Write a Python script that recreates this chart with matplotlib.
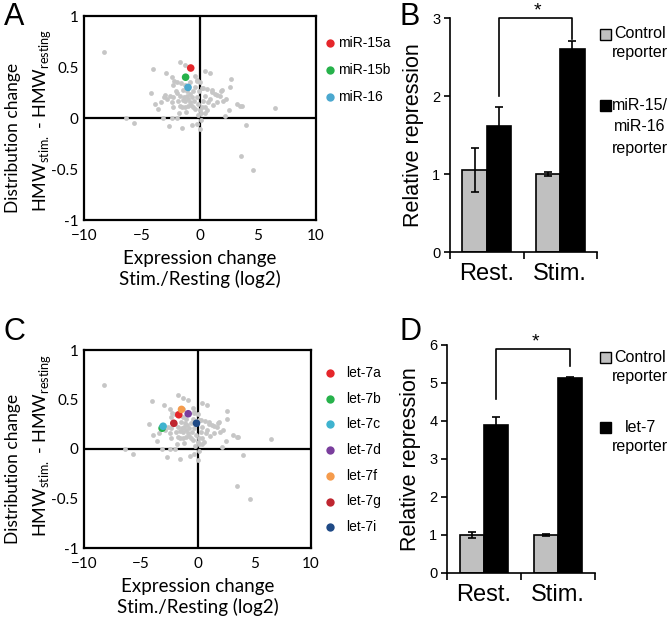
import matplotlib
matplotlib.use("Agg")
import matplotlib.pyplot as plt
from matplotlib.patches import Rectangle

# ---- data ----
gray_x = [-8.28, -4.02, -2.96, -1.72, -1.29, 0.43, 0.86, -2.39, -2.27, -0.43, -0.29, 2.64,
          -4.25, -2.36, 0.14, 0.63, 1.01, 1.47, 1.81, 2.59, 2.21, 2.01, 3.16, 3.45, 3.59, 2.5,
          -3.88, -3.59, -3.39, -6.38, -5.66, -3.16, -2.4, -2.0, -2.67, -1.58, -0.66, -0.29, 0.0,
          0.09, 0.09, 0.43, 2.16, 3.97, 3.51, 4.6, 6.49,
          -2.87, -2.44, -2.3, -1.87, -1.72, -1.58, -1.44, -1.38, -1.26, -1.15, -1.0, -0.86, -0.72,
          -0.57, -0.43, -0.29, -0.14, 0.0, 0.14, 0.29, 0.43, 0.57, 0.72, 0.86, 1.03, 1.29, 1.44,
          1.72, 1.87, -1.72, -1.29, -1.0, -2.3, -0.29, 0.0, -1.29, -0.43, 0.29, -2.0, -1.95, -1.1,
          -0.6, -0.9, -2.6, -1.5, -0.5, -0.2, -1.8, -1.2, -0.75, 0.4, 1.1]
gray_y = [0.65, 0.48, 0.445, 0.55, 0.52, 0.46, 0.445, 0.40, 0.36, 0.41, 0.36, 0.38,
          0.25, 0.32, 0.29, 0.28, 0.255, 0.23, 0.26, 0.30, 0.19, 0.17, 0.14, 0.12, 0.12, 0.08,
          0.14, 0.085, 0.16, 0.0, -0.05, 0.0, 0.0, 0.0, -0.08, -0.10, -0.07, -0.055, -0.11,
          -0.02, 0.05, 0.05, 0.02, -0.065, -0.375, -0.51, 0.10,
          0.19, 0.16, 0.21, 0.17, 0.22, 0.11, 0.27, 0.21, 0.17, 0.22, 0.19, 0.16, 0.21,
          0.11, 0.09, 0.21, 0.14, 0.075, 0.11, 0.17, 0.22, 0.075, 0.16, 0.19, 0.27, 0.24, 0.16,
          0.22, 0.27, 0.12, 0.11, 0.12, 0.11, 0.37, 0.35, 0.32, 0.30, 0.29, 0.35, 0.25, 0.26,
          0.26, 0.24, 0.22, 0.18, 0.17, 0.03, 0.05, 0.06, 0.13, 0.11, 0.13]

mir15_names = ["miR-15a", "miR-15b", "miR-16"]
mir15_x = [-0.8, -1.24, -1.03]
mir15_y = [0.49, 0.40, 0.30]
mir15_colors = ["#e5262b", "#27b24b", "#4ba8cf"]

let7_names = ["let-7a", "let-7b", "let-7c", "let-7d", "let-7f", "let-7g", "let-7i"]
let7_x = [-1.65, -3.12, -3.03, -0.82, -1.41, -2.09, -0.09]
let7_y = [0.346, 0.21, 0.23, 0.356, 0.40, 0.26, 0.26]
let7_colors = ["#e5262b", "#27b24b", "#3fb3cf", "#7a3e9d", "#f59b4c", "#bf2630", "#1f4a86"]

conditions = ["Rest.", "Stim."]
b_control = [1.05, 1.0]
b_control_err = [0.28, 0.02]
b_mir = [1.62, 2.6]
b_mir_err = [0.24, 0.1]
d_control = [1.0, 1.0]
d_control_err = [0.08, 0.03]
d_let7 = [3.9, 5.13]
d_let7_err = [0.2, 0.02]

W, H = 672, 624
fig = plt.figure(figsize=(6.72, 6.24), dpi=100)
SC_FONT = "Lato"
BAR_FONT = "Liberation Sans"


def fx(px):
    return px / W


def fy(py):
    return 1 - py / H


def scatter_panel(rect, hx, hy, hcolors, other_x, other_y, ylab_pos):
    ax = fig.add_axes(rect)
    ax.scatter(gray_x + other_x, gray_y + other_y, s=12, color="#c6c6c6", lw=0, zorder=2)
    ax.scatter(hx, hy, s=30, c=hcolors, lw=0, zorder=3)
    ax.axhline(0, color="black", lw=1.6, zorder=1)
    ax.axvline(0, color="black", lw=1.6, zorder=1)
    ax.set_xlim(-10, 10)
    ax.set_ylim(-1, 1)
    ax.set_xticks([-10, -5, 0, 5, 10])
    ax.set_yticks([-1, -0.5, 0, 0.5, 1])
    ax.set_yticklabels(["-1", "-0.5", "0", "0.5", "1"])
    ax.tick_params(axis="y", length=0, pad=4, labelsize=11)
    ax.tick_params(axis="x", length=0, pad=6.5, labelsize=11)
    for lab in ax.get_xticklabels() + ax.get_yticklabels():
        lab.set_fontfamily(SC_FONT)
    for sp in ax.spines.values():
        sp.set_linewidth(1.6)
    ax.set_xlabel("Expression change\nStim./Resting (log2)", fontsize=13.5,
                  family=SC_FONT, labelpad=5, linespacing=1.2)
    # two-line y label, placed line by line
    (x1, y1), (x2, y2) = ylab_pos
    fig.text(fx(x1), fy(y1), "Distribution change", rotation=90, fontsize=12.5,
             family=SC_FONT, ha="center", va="center")
    fig.text(fx(x2), fy(y2), "HMW$_{\\mathregular{stim.}}$ - HMW$_{\\mathregular{resting}}$",
             rotation=90, fontsize=13, family=SC_FONT, ha="center", va="center")
    return ax


def scatter_legend(names, colors, y0, step, tx):
    for i, (n, c) in enumerate(zip(names, colors)):
        yy = fy(y0 + i * step)
        fig.add_artist(plt.Line2D([fx(330)], [yy], marker="o", ms=6, color=c, mew=0,
                                  transform=fig.transFigure))
        fig.text(fx(tx), yy, n, fontsize=10, family=BAR_FONT, va="center", ha="left")


def bar_panel(rect, ctrl, ctrl_err, exp, exp_err, ymax, bracket, star_y):
    ax = fig.add_axes(rect)
    pos = list(range(len(conditions)))
    bw = 0.33
    ax.bar([p - bw / 2 for p in pos], ctrl, bw, yerr=ctrl_err, color="#c0c0c0",
           edgecolor="black", lw=1.2, capsize=3,
           error_kw=dict(elinewidth=1.2, capthick=1.2))
    ax.bar([p + bw / 2 for p in pos], exp, bw, yerr=exp_err, color="black",
           edgecolor="black", lw=1.2, capsize=3,
           error_kw=dict(elinewidth=1.2, capthick=1.2, ecolor="black"))
    ax.set_xlim(-0.5, 1.5)
    ax.set_ylim(0, ymax)
    ax.set_yticks(range(0, ymax + 1))
    ax.set_xticks([-0.5, 0.5, 1.5])
    ax.set_xticklabels([])
    ax.set_xticks(pos, minor=True)
    ax.set_xticklabels(conditions, minor=True, fontsize=17, family=BAR_FONT)
    ax.tick_params(axis="x", which="minor", length=0, pad=8)
    ax.tick_params(axis="x", which="major", length=5, width=1.2, direction="out")
    ax.tick_params(axis="y", length=4, width=1.2, labelsize=10.5, pad=3)
    for lab in ax.get_yticklabels():
        lab.set_fontfamily(BAR_FONT)
    for s in ["top", "right"]:
        ax.spines[s].set_visible(False)
    for s in ["left", "bottom"]:
        ax.spines[s].set_linewidth(1.2)
    ax.set_ylabel("Relative repression", fontsize=15.5, family=BAR_FONT, labelpad=6)
    xl, xr = bw / 2, 1 + bw / 2
    yl, ytop, yr = bracket
    ax.plot([xl, xl, xr, xr], [yl, ytop, ytop, yr], color="black", lw=1.2, clip_on=False)
    ax.text((xl + xr) / 2 + 0.03, star_y, "*", fontsize=14, ha="center", va="top",
            family=BAR_FONT)
    return ax


def bar_legend(items):
    for color, ypx, lines in items:
        fig.add_artist(Rectangle((fx(600), fy(ypx + 5.5)), 11 / W, 11 / H,
                                 facecolor=color, edgecolor="black", lw=1,
                                 transform=fig.transFigure))
        for t, ty in lines:
            fig.text(fx(640), fy(ty), t, fontsize=11.5, family=BAR_FONT,
                     ha="center", va="center")


# Panel A
scatter_panel([fx(84), fy(220), 232 / W, 204 / H], mir15_x, mir15_y, mir15_colors,
              let7_x, let7_y, ((13, 138), (42, 120)))
scatter_legend(mir15_names, mir15_colors, 43, 27, 338)

# Panel C
scatter_panel([fx(84), fy(548), 227 / W, 198 / H], let7_x, let7_y, let7_colors,
              mir15_x, mir15_y, ((13, 469), (42, 445)))
scatter_legend(let7_names, let7_colors, 373, 25.7, 346)

# Panel B
bar_panel([fx(450), fy(252), 147 / W, 234 / H], b_control, b_control_err, b_mir, b_mir_err,
          3, (2.0, 3.0, 2.73), 3.2)
bar_legend([("#c0c0c0", 34.5, [("Control", 34), ("reporter", 53)]),
            ("black", 105.5, [("miR-15/", 105), ("miR-16", 127), ("reporter", 148)])])

# Panel D
bar_panel([fx(447), fy(573), 148 / W, 228 / H], d_control, d_control_err, d_let7, d_let7_err,
          6, (4.58, 5.9, 5.45), 6.3)
bar_legend([("#c0c0c0", 357, [("Control", 357), ("reporter", 377)]),
            ("black", 427, [("let-7", 427), ("reporter", 447)])])

# panel letters
for lab, xp, yp in [("A", 14, 17), ("B", 410, 17), ("C", 14, 332), ("D", 410, 332)]:
    fig.text(fx(xp), fy(yp), lab, fontsize=22, family=BAR_FONT, ha="center", va="center")

fig.savefig("out.png", dpi=100)
